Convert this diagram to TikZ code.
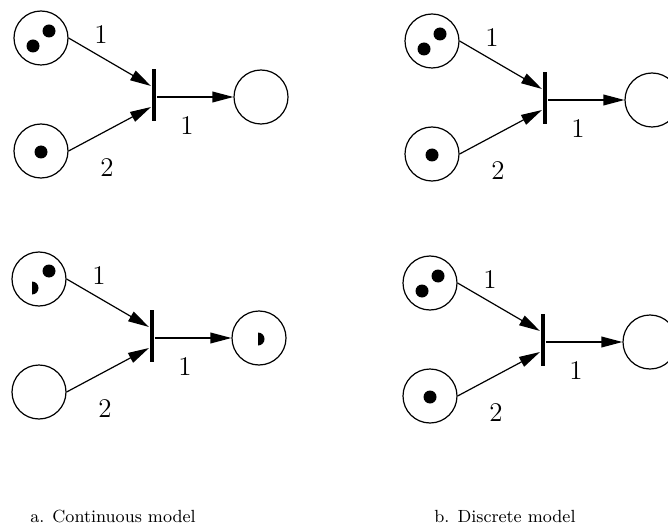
\documentclass[tikz,border=0pt]{standalone}
\usetikzlibrary{arrows.meta}

\tikzset{
  place/.style={draw,circle,minimum size=27pt,inner sep=0pt,line width=0.6pt},
  trans/.style={fill,rectangle,minimum width=2.4pt,minimum height=26pt,inner sep=0pt},
  flow/.style={-{Triangle[length=10.5pt,width=5.4pt]},line width=0.6pt},
  weight/.style={font=\fontsize{13.5}{16}\selectfont},
  caption/.style={font=\fontsize{8.8}{10}\selectfont}
}

% token macros (coordinates in the net's own frame)
\newcommand{\tok}[1]{\fill (#1) circle (6.5);}
\newcommand{\halftok}[1]{\fill (#1) ++(0,6.5) arc (90:-90:6.5) -- cycle;}

% one net: #1 prefix, #2 origin, #3 tokens
\newcommand{\petrinet}[3]{%
  \begin{scope}[shift={(#2)}]
    \node[place] (#1p1) at (0,0) {};
    \node[place] (#1p2) at (0,113) {};
    \node[trans] (#1t) at (113,57) {};
    \node[place] (#1p3) at (220,59) {};
    \coordinate (#1in1) at (110,48);
    \coordinate (#1in2) at (110,69);
    \draw[flow] (#1p1.east) -- (#1in1);
    \draw[flow] (#1p2.east) -- (#1in2);
    \draw[flow] (#1t.east |- #1p3.west) -- (#1p3.west);
    \node[weight] (#1w1) at (60,-3) {1};
    \node[weight] (#1w2) at (66,130) {2};
    \node[weight] (#1w3) at (146,88) {1};
    #3
  \end{scope}}

\begin{document}
\begin{tikzpicture}[x=0.5pt,y=-0.5pt]
\clip (0,0) rectangle (668,529);

% continuous model
\petrinet{at}{41,38}{\tok{8,-7} \tok{-8,8} \tok{0,114}}
\petrinet{ab}{39,279}{\tok{10,-8} \halftok{-7,9} \halftok{219,60}}

% discrete model
\petrinet{bt}{432,41}{\tok{8,-7} \tok{-8,8} \tok{0,114}}
\petrinet{bb}{430,283}{\tok{8,-7} \tok{-8,8} \tok{0,114}}

% captions
\node[caption] (capa) at (113,516) {a. Continuous model};
\node[caption] (capb) at (505,516) {b. Discrete model};
\end{tikzpicture}
\end{document}
